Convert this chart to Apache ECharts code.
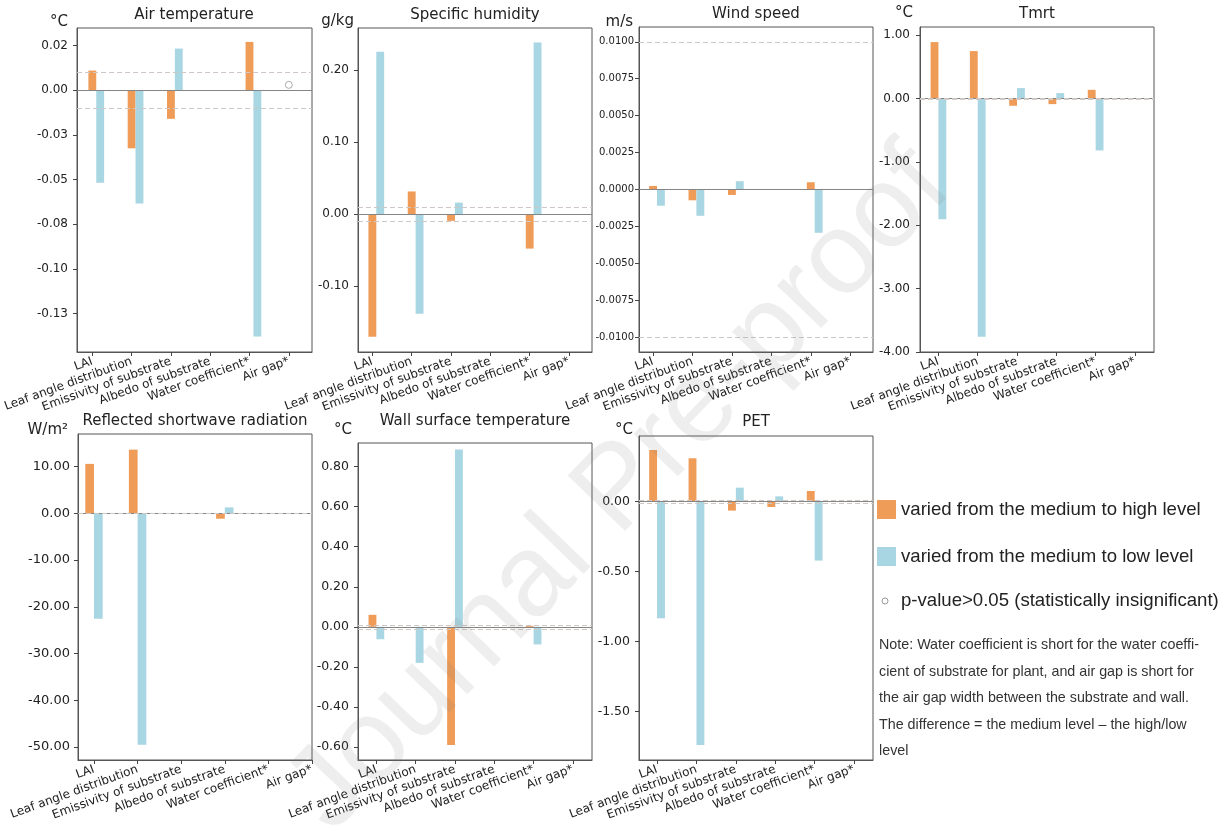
<!DOCTYPE html>
<html><head><meta charset="utf-8">
<script src="https://cdn.jsdelivr.net/npm/echarts@6/dist/echarts.min.js"></script>
<style>html,body{margin:0;padding:0;background:#fff}#c{width:1231px;height:825px}</style>
</head><body><div id="c"></div>
<script>
// ---------------- data ----------------
const categories = ['LAI', 'Leaf angle distribution', 'Emissivity of substrate', 'Albedo of substrate', 'Water coefficient*', 'Air gap*'];
const seriesNames = ['varied from the medium to high level', 'varied from the medium to low level'];
const insigName = 'p-value>0.05 (statistically insignificant)';
const thresholds = [0.01, -0.01];
const noteLines = [
  'Note: Water coefficient is short for the water coeffi-',
  'cient of substrate for plant, and air gap is short for',
  'the air gap width between the substrate and wall.',
  'The difference = the medium level \u2013 the high/low',
  'level'
];
const watermark = 'Journal Pre-proof';

const titles = ['Air temperature', 'Specific humidity', 'Wind speed', 'Tmrt', 'Reflected shortwave radiation', 'Wall surface temperature', 'PET'];
const units = ['\u00B0C', 'g/kg', 'm/s', '\u00B0C', 'W/m\u00B2', '\u00B0C', '\u00B0C'];

const airTempHigh = [0.011, -0.0325, -0.016, null, 0.027, null];
const airTempLow = [-0.0517, -0.0634, 0.0233, null, -0.1378, null];
const airTempInsig = [null, null, null, null, null, 0.003];
const airTempTicks = [0.025, 0, -0.025, -0.05, -0.075, -0.1, -0.125];
const airTempTickLabels = ['0.02', '0.00', '-0.03', '-0.05', '-0.08', '-0.10', '-0.13'];

const humidityHigh = [-0.170, 0.0315, -0.0093, null, -0.0477, null];
const humidityLow = [0.225, -0.138, 0.016, null, 0.238, null];
const humidityTicks = [0.2, 0.1, 0, -0.1];
const humidityTickLabels = ['0.20', '0.10', '0.00', '-0.10'];

const windHigh = [0.00024, -0.00073, -0.00037, null, 0.00049, null];
const windLow = [-0.0011, -0.00178, 0.00056, null, -0.00293, null];
const windTicks = [0.01, 0.0075, 0.005, 0.0025, 0, -0.0025, -0.005, -0.0075, -0.01];
const windTickLabels = ['0.0100', '0.0075', '0.0050', '0.0025', '0.0000', '-0.0025', '-0.0050', '-0.0075', '-0.0100'];

const tmrtHigh = [0.89, 0.748, -0.115, -0.089, 0.137, null];
const tmrtLow = [-1.905, -3.76, 0.164, 0.085, -0.82, null];
const tmrtTicks = [1, 0, -1, -2, -3, -4];
const tmrtTickLabels = ['1.00', '0.00', '-1.00', '-2.00', '-3.00', '-4.00'];

const reflHigh = [10.6, 13.65, null, -1.14, null, null];
const reflLow = [-22.56, -49.56, null, 1.29, null, null];
const reflTicks = [10, 0, -10, -20, -30, -40, -50];
const reflTickLabels = ['10.00', '0.00', '-10.00', '-20.00', '-30.00', '-40.00', '-50.00'];

const wallHigh = [0.06, null, -0.59, null, 0.005, null];
const wallLow = [-0.062, -0.18, 0.885, null, -0.088, null];
const wallTicks = [0.8, 0.6, 0.4, 0.2, 0, -0.2, -0.4, -0.6];
const wallTickLabels = ['0.80', '0.60', '0.40', '0.20', '0.00', '-0.20', '-0.40', '-0.60'];

const petHigh = [0.369, 0.31, -0.064, -0.038, 0.076, null];
const petLow = [-0.833, -1.738, 0.1, 0.038, -0.421, null];
const petTicks = [0, -0.5, -1, -1.5];
const petTickLabels = ['0.00', '-0.50', '-1.00', '-1.50'];

// ---------------- layout / style ----------------
const ORANGE = '#EF9C58';
const BLUE = '#A9D6E3';
const FONT = 'DejaVu Sans';
const LFONT = 'Liberation Sans';

const panels = [
  { high: airTempHigh, low: airTempLow, insig: airTempInsig, ticks: airTempTicks, labels: airTempTickLabels,
    y: [-0.1464, 0.0348], x: [-0.39, 5.59], shift: 0.1, grid: [77, 28, 235, 324], fs: 12, lm: 9,
    titleXY: [194, 15], unitXY: [68, 22] },
  { high: humidityHigh, low: humidityLow, ticks: humidityTicks, labels: humidityTickLabels,
    y: [-0.191, 0.258], x: [-0.365, 5.584], shift: 0.1, grid: [358, 28, 234, 324], fs: 12, lm: 9,
    titleXY: [475, 15], unitXY: [354, 21] },
  { high: windHigh, low: windLow, ticks: windTicks, labels: windTickLabels,
    y: [-0.011, 0.011], x: [-0.356, 5.578], shift: 0.1, grid: [639, 27, 234, 325], fs: 10, lm: 5,
    titleXY: [756, 14], unitXY: [633, 22] },
  { high: tmrtHigh, low: tmrtLow, ticks: tmrtTicks, labels: tmrtTickLabels,
    y: [-4.0, 1.128], x: [-0.469, 5.485], shift: 0, grid: [920, 27, 234, 325], fs: 12, lm: 10,
    titleXY: [1037, 14], unitXY: [913, 13] },
  { high: reflHigh, low: reflLow, ticks: reflTicks, labels: reflTickLabels,
    y: [-52.8, 17.0], x: [-0.367, 5.0], shift: 0, grid: [78, 434, 234, 326], fs: 13, lm: 8,
    titleXY: [195, 421], unitXY: [68, 430] },
  { high: wallHigh, low: wallLow, ticks: wallTicks, labels: wallTickLabels,
    y: [-0.665, 0.918], x: [-0.468, 5.486], shift: 0, grid: [358, 443, 234, 317], fs: 12.5, lm: 9,
    titleXY: [475, 421], unitXY: [352, 430] },
  { high: petHigh, low: petLow, ticks: petTicks, labels: petTickLabels,
    y: [-1.845, 0.469], x: [-0.458, 5.48], shift: 0, grid: [639, 436, 234, 324], fs: 12.5, lm: 9,
    titleXY: [756, 422], unitXY: [633, 430] }
];

const catIdx = categories.map((c, i) => i);
const toXY = arr => arr.map((v, i) => [i, v === null ? '-' : v]);
const labelFmt = (vals, labels) => v => {
  for (let i = 0; i < vals.length; i++) if (Math.abs(v - vals[i]) < 1e-9) return labels[i];
  return '';
};

const grids = [], xAxes = [], yAxes = [], series = [], graphics = [];

panels.forEach((p, i) => {
  grids.push({ left: p.grid[0], top: p.grid[1], width: p.grid[2], height: p.grid[3],
    show: true, borderColor: '#555', borderWidth: 1, backgroundColor: 'transparent',
    outerBoundsMode: 'none', containLabel: false });
  // visible tick/label axis
  xAxes.push({ type: 'value', gridIndex: i, position: 'bottom', min: p.x[0], max: p.x[1],
    axisLine: { show: true, onZero: false, lineStyle: { color: '#555', width: 1 } },
    axisTick: { show: true, customValues: catIdx, length: 4, lineStyle: { color: '#444' } },
    axisLabel: { customValues: catIdx, rotate: 20, fontSize: 12, margin: 9, color: '#222', fontFamily: FONT,
      formatter: v => categories[Math.round(v)] },
    splitLine: { show: false } });
  // hidden bar axis
  xAxes.push({ type: 'value', gridIndex: i, position: 'top', min: p.x[0] - p.shift, max: p.x[1] - p.shift,
    show: false, splitLine: { show: false }, axisLine: { onZero: false } });
  yAxes.push({ type: 'value', gridIndex: i, min: p.y[0], max: p.y[1],
    axisLine: { show: true, onZero: false, lineStyle: { color: '#555', width: 1 } },
    axisTick: { show: true, customValues: p.ticks, length: 4, lineStyle: { color: '#444' } },
    axisLabel: { customValues: p.ticks, fontSize: p.fs, margin: p.lm, color: '#222', fontFamily: FONT,
      formatter: labelFmt(p.ticks, p.labels) },
    splitLine: { show: false } });

  const ml = {
    silent: true, symbol: ['none', 'none'], label: { show: false }, animation: false,
    emphasis: { disabled: true },
    data: [
      { yAxis: 0, lineStyle: { color: '#858585', width: 1.2, type: 'solid' } },
      { yAxis: thresholds[0], lineStyle: { color: '#cfc7c3', width: 1.2, type: [5, 3] } },
      { yAxis: thresholds[1], lineStyle: { color: '#cfc7c3', width: 1.2, type: [5, 3] } }
    ]
  };
  series.push({ type: 'bar', name: seriesNames[0], xAxisIndex: 2 * i + 1, yAxisIndex: i, data: toXY(p.high),
    barWidth: '20%', barGap: '0%', itemStyle: { color: ORANGE }, silent: true, animation: false, markLine: ml });
  series.push({ type: 'bar', name: seriesNames[1], xAxisIndex: 2 * i + 1, yAxisIndex: i, data: toXY(p.low),
    barWidth: '20%', barGap: '0%', itemStyle: { color: BLUE }, silent: true, animation: false });
  if (p.insig) {
    series.push({ type: 'scatter', name: insigName, xAxisIndex: 2 * i, yAxisIndex: i,
      data: toXY(p.insig).filter(d => d[1] !== '-'), symbol: 'circle', symbolSize: 7,
      itemStyle: { color: '#fff', borderColor: '#999', borderWidth: 1 }, silent: true, animation: false, z: 5 });
  }
  graphics.push({ type: 'text', x: p.titleXY[0], y: p.titleXY[1],
    style: { text: titles[i], font: '15px "' + FONT + '"', fill: '#222',
      align: 'center', textAlign: 'center', verticalAlign: 'middle', textVerticalAlign: 'middle' } });
  graphics.push({ type: 'text', x: p.unitXY[0], y: p.unitXY[1],
    style: { text: units[i], font: '15px "' + FONT + '"', fill: '#222',
      align: 'right', textAlign: 'right', verticalAlign: 'middle', textVerticalAlign: 'middle' } });
});

// legend
graphics.push({ type: 'rect', shape: { x: 877, y: 500, width: 19, height: 19 }, style: { fill: ORANGE } });
graphics.push({ type: 'rect', shape: { x: 877, y: 547, width: 19, height: 19 }, style: { fill: BLUE } });
graphics.push({ type: 'circle', shape: { cx: 885, cy: 601, r: 3 }, style: { fill: '#fff', stroke: '#999', lineWidth: 1 } });
[[seriesNames[0], 510], [seriesNames[1], 557], [insigName, 601]].forEach(([t, y]) => {
  graphics.push({ type: 'text', x: 901, y: y,
    style: { text: t, font: '18.6px "' + LFONT + '"', fill: '#222',
      align: 'left', textAlign: 'left', verticalAlign: 'middle', textVerticalAlign: 'middle' } });
});
noteLines.forEach((t, k) => {
  graphics.push({ type: 'text', x: 879, y: 645 + k * 26.6,
    style: { text: t, font: '14.3px "' + LFONT + '"', fill: '#333',
      align: 'left', textAlign: 'left', verticalAlign: 'middle', textVerticalAlign: 'middle' } });
});
// watermark
graphics.push({ type: 'text', x: 620, y: 490, rotation: 46 * Math.PI / 180, z: 100, silent: true,
  style: { text: watermark, font: '116px "' + LFONT + '"', fill: 'rgba(120,120,120,0.13)',
    align: 'center', textAlign: 'center', verticalAlign: 'middle', textVerticalAlign: 'middle' } });

const chart = echarts.init(document.getElementById('c'), null, { renderer: 'canvas' });
chart.setOption({
  animation: false,
  backgroundColor: '#fff',
  grid: grids, xAxis: xAxes, yAxis: yAxes, series: series,
  graphic: { elements: graphics }
});
</script></body></html>
